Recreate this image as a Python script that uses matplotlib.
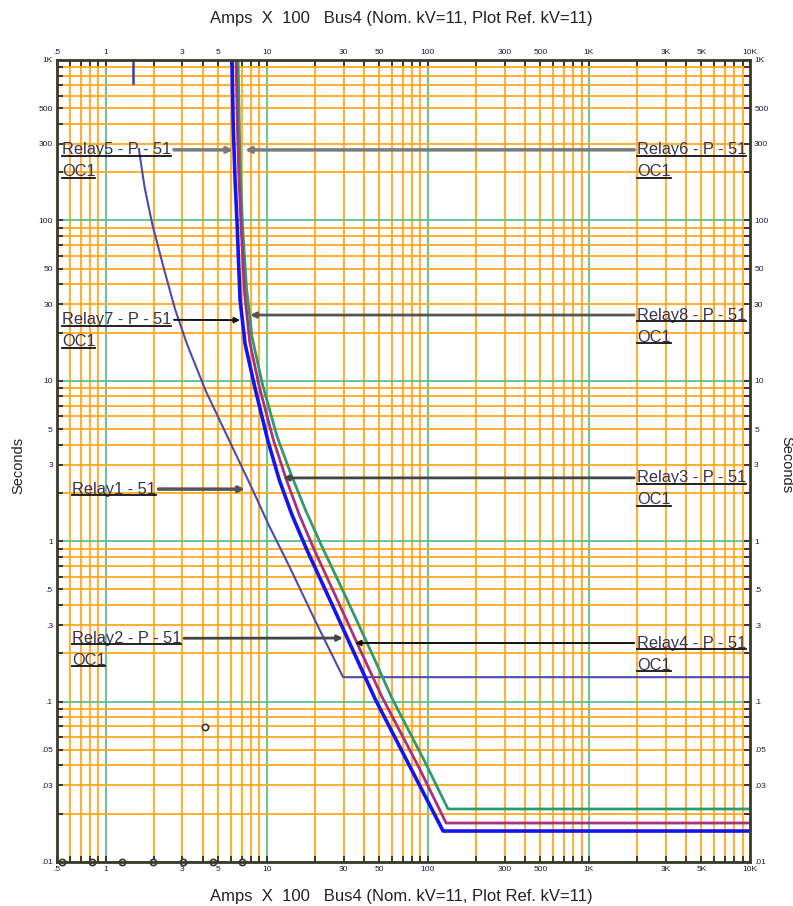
import numpy as np
import matplotlib
matplotlib.use("Agg")
import matplotlib.pyplot as plt
from matplotlib.lines import Line2D
from matplotlib.text import Text
from matplotlib.transforms import IdentityTransform
from matplotlib.ticker import FixedLocator, LogLocator, NullFormatter

plt.rcParams['font.family'] = ['Liberation Sans', 'DejaVu Sans']

# curves (Amps x 100, seconds)
blue_amps = [6.1, 6.2, 6.37, 6.55, 6.84, 7.35, 8.47, 10.2, 12.0, 14.4, 17.8, 25, 35, 47.1, 80, 124.5, 10000]
blue_sec = [1000, 400, 178, 98, 32, 17, 9.0, 4.2, 2.4, 1.45, 0.88, 0.42, 0.2, 0.104, 0.037, 0.0156, 0.0156]
purple_amps = [6.46, 6.6, 6.74, 6.95, 7.3, 7.85, 9.0, 11.0, 13.2, 16.0, 19.6, 27.5, 38.5, 52, 88, 130, 10000]
purple_sec = [1000, 350, 178, 90, 35, 17.5, 9.2, 4.3, 2.45, 1.45, 0.9, 0.43, 0.205, 0.107, 0.039, 0.0175, 0.0175]
green_amps = [6.65, 6.78, 6.9, 7.1, 7.5, 8.1, 9.4, 11.6, 14.2, 17.5, 21.8, 31, 44, 60, 95, 133.6, 10000]
green_sec = [1000, 350, 178, 90, 38, 19, 9.6, 4.5, 2.6, 1.55, 0.95, 0.45, 0.21, 0.105, 0.043, 0.0214, 0.0214]
relay1_amps = [1.61, 1.75, 1.95, 2.28, 2.7, 3.2, 4.2, 6.1, 8, 10.35, 14, 20, 29.8, 10000]
relay1_sec = [279, 160, 95, 52, 28, 17, 8.6, 3.9, 2.2, 1.25, 0.68, 0.32, 0.142, 0.142]
stub_amps = [1.48, 1.48]
stub_sec = [971, 719]
marker_amps = [0.537, 0.825, 1.266, 1.97, 3.03, 4.65, 7.03, 4.15]
marker_sec = [0.01, 0.01, 0.01, 0.01, 0.01, 0.01, 0.01, 0.0695]

xticks = [0.5, 1, 3, 5, 10, 30, 50, 100, 300, 500, 1000, 3000, 5000, 10000]
xlabels = ['.5', '1', '3', '5', '10', '30', '50', '100', '300', '500', '1K', '3K', '5K', '10K']
yticks = [0.01, 0.03, 0.05, 0.1, 0.3, 0.5, 1, 3, 5, 10, 30, 50, 100, 300, 500, 1000]
ylabels = ['.01', '.03', '.05', '.1', '.3', '.5', '1', '3', '5', '10', '30', '50', '100', '300', '500', '1K']

# label, second line, side, label y (axes frac), arrow target (amps, sec), arrow colour, lw
labels = [
    ("Relay5 - P - 51", "OC1", "L", 0.888, (6.2, 275), "#7a7a7a", 2.5),
    ("Relay6 - P - 51", "OC1", "R", 0.888, (7.34, 275), "#7a7a7a", 2.5),
    ("Relay7 - P - 51", "OC1", "L", 0.676, (6.84, 23.9), "#111111", 1.4),
    ("Relay8 - P - 51", "OC1", "R", 0.682, (7.89, 25.7), "#555555", 2.0),
    ("Relay1 - 51", None, "L", 0.465, (7.34, 2.11), "#555555", 2.5),
    ("Relay3 - P - 51", "OC1", "R", 0.479, (12.6, 2.48), "#444444", 2.0),
    ("Relay2 - P - 51", "OC1", "L", 0.279, (29.8, 0.249), "#444444", 2.0),
    ("Relay4 - P - 51", "OC1", "R", 0.273, (35.4, 0.232), "#111111", 1.4),
]

W, H = 793, 906
fig = plt.figure(figsize=(W / 100, H / 100), dpi=100)
ax = fig.add_axes([57 / W, 1 - 862 / H, 693 / W, 802 / H])
ax.set_xscale('log')
ax.set_yscale('log')
ax.set_xlim(0.5, 10000)
ax.set_ylim(0.01, 1000)

# grid: green at decades, orange at the 2..9 multiples
for dec in [0.1, 1, 10, 100, 1000]:
    for m in range(1, 10):
        v = dec * m
        if 0.5 <= v <= 10000:
            if m == 1:
                ax.axvline(v, color='#5cc08a', lw=1.3, zorder=1)
            else:
                ax.axvline(v, color='#ffa91f', lw=1.5, alpha=0.9, zorder=1)
for dec in [0.01, 0.1, 1, 10, 100, 1000]:
    for m in range(1, 10):
        v = dec * m
        if 0.01 <= v <= 1000:
            if m == 1:
                ax.axhline(v, color='#5cc08a', lw=1.3, zorder=1)
            else:
                ax.axhline(v, color='#ffa91f', lw=1.5, alpha=0.9, zorder=1)

ax.plot(relay1_amps, relay1_sec, color='#4b4bb0', lw=1.5, zorder=3)
ax.plot(stub_amps, stub_sec, color='#4040a0', lw=1.8, zorder=3)
ax.plot(green_amps, green_sec, color='#2e9a6e', lw=2.0, zorder=3)
ax.plot(purple_amps, purple_sec, color='#a8307e', lw=2.0, zorder=3)
ax.plot(blue_amps, blue_sec, color='#1414f0', lw=2.6, zorder=3)
ax.plot(marker_amps, marker_sec, 'o', ms=4.5, mfc='white', mec='#333333', mew=1.2,
        ls='none', zorder=4, clip_on=False)

ax.xaxis.set_major_locator(FixedLocator(xticks))
ax.set_xticklabels(xlabels)
ax.yaxis.set_major_locator(FixedLocator(yticks))
ax.set_yticklabels(ylabels)
ax.xaxis.set_minor_locator(LogLocator(base=10, subs=range(2, 10), numticks=20))
ax.yaxis.set_minor_locator(LogLocator(base=10, subs=range(2, 10), numticks=20))
ax.xaxis.set_minor_formatter(NullFormatter())
ax.yaxis.set_minor_formatter(NullFormatter())
ax.tick_params(which='both', direction='in', length=4, width=1.2, color='#222222',
               top=True, right=True, labeltop=True, labelright=True,
               labelsize=6, labelcolor='#1a1a40', pad=3)
for s in ax.spines.values():
    s.set_color('#3a3a28')
    s.set_linewidth(2)
    s.set_zorder(5)

title = "Amps  X  100   Bus4 (Nom. kV=11, Plot Ref. kV=11)"
fig.text(401 / W, 1 - 18 / H, title, ha='center', va='center', fontsize=12, color='#222222')
fig.text(401 / W, 1 - 896 / H, title, ha='center', va='center', fontsize=12, color='#222222')
fig.text(18 / W, 1 - 465 / H, "Seconds", rotation=90, ha='center', va='center', fontsize=10.5, color='#222222')
fig.text(786 / W, 1 - 465 / H, "Seconds", rotation=-90, ha='center', va='center', fontsize=10.5, color='#222222')

texts = []
for name, sub, side, ly, target, col, lw in labels:
    lx = 0.0072 if side == "L" else 0.837
    if name.startswith("Relay1") or name.startswith("Relay2"):
        lx = 0.0216
    rel = (1, 0.5) if side == "L" else (0, 0.5)
    t = ax.annotate(name, xy=target, xycoords='data', xytext=(lx, ly), textcoords='axes fraction',
                    ha='left', va='center', fontsize=11.8, color='#333355', zorder=6,
                    arrowprops=dict(arrowstyle='-|>', color=col, lw=lw, relpos=rel,
                                    shrinkA=0, shrinkB=0, mutation_scale=8))
    texts.append(t)
    if sub:
        t2 = ax.text(lx, ly - 0.0274, sub, transform=ax.transAxes, ha='left', va='center',
                     fontsize=11.8, color='#333355', zorder=6)
        texts.append(t2)

fig.canvas.draw()
renderer = fig.canvas.get_renderer()
for t in texts:
    bb = Text.get_window_extent(t, renderer)
    fig.add_artist(Line2D([bb.x0, bb.x1], [bb.y0 + 1.5, bb.y0 + 1.5], transform=IdentityTransform(),
                          color='#111111', lw=1.3, zorder=7))

fig.savefig("out.png", dpi=100)
